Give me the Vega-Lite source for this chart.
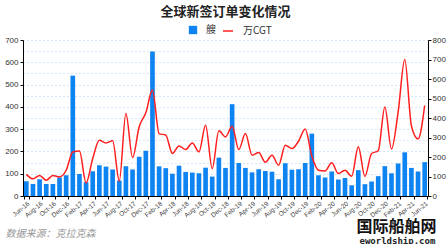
{
  "$schema": "https://vega.github.io/schema/vega-lite/v6.json",
  "width": 405,
  "height": 156,
  "autosize": "none",
  "padding": {"left": 23, "top": 40, "right": 20, "bottom": 48},
  "background": "#ffffff",
  "title": {
    "text": "全球新签订单变化情况",
    "font": "Noto Sans CJK SC",
    "fontSize": 13,
    "fontWeight": "bold",
    "color": "#222222",
    "anchor": "middle",
    "frame": "group",
    "offset": 6
  },
  "config": {
    "view": {"stroke": null},
    "axis": {"labelFont": "Liberation Sans", "titleFont": "Noto Sans CJK SC"},
    "legend": {"labelFont": "Noto Sans CJK SC"}
  },
  "data": {
    "values": [
      {"m": "Jun-16", "ships": 66, "cgt": 111},
      {"m": "Jul-16", "ships": 54, "cgt": 88},
      {"m": "Aug-16", "ships": 75, "cgt": 105},
      {"m": "Sep-16", "ships": 54, "cgt": 81},
      {"m": "Oct-16", "ships": 54, "cgt": 105},
      {"m": "Nov-16", "ships": 83, "cgt": 98},
      {"m": "Dec-16", "ships": 93, "cgt": 132},
      {"m": "Jan-17", "ships": 540, "cgt": 226},
      {"m": "Feb-17", "ships": 99, "cgt": 231},
      {"m": "Mar-17", "ships": 62, "cgt": 67},
      {"m": "Apr-17", "ships": 111, "cgt": 192},
      {"m": "May-17", "ships": 138, "cgt": 286},
      {"m": "Jun-17", "ships": 132, "cgt": 272},
      {"m": "Jul-17", "ships": 119, "cgt": 283},
      {"m": "Aug-17", "ships": 69, "cgt": 77},
      {"m": "Sep-17", "ships": 133, "cgt": 423},
      {"m": "Oct-17", "ships": 119, "cgt": 197},
      {"m": "Nov-17", "ships": 176, "cgt": 355},
      {"m": "Dec-17", "ships": 203, "cgt": 427},
      {"m": "Jan-18", "ships": 648, "cgt": 543},
      {"m": "Feb-18", "ships": 133, "cgt": 320},
      {"m": "Mar-18", "ships": 125, "cgt": 312},
      {"m": "Apr-18", "ships": 100, "cgt": 218},
      {"m": "May-18", "ships": 136, "cgt": 257},
      {"m": "Jun-18", "ships": 108, "cgt": 238},
      {"m": "Jul-18", "ships": 105, "cgt": 272},
      {"m": "Aug-18", "ships": 102, "cgt": 226},
      {"m": "Sep-18", "ships": 127, "cgt": 363},
      {"m": "Oct-18", "ships": 87, "cgt": 140},
      {"m": "Nov-18", "ships": 172, "cgt": 334},
      {"m": "Dec-18", "ships": 126, "cgt": 303},
      {"m": "Jan-19", "ships": 412, "cgt": 358},
      {"m": "Feb-19", "ships": 148, "cgt": 238},
      {"m": "Mar-19", "ships": 126, "cgt": 320},
      {"m": "Apr-19", "ships": 106, "cgt": 209},
      {"m": "May-19", "ships": 120, "cgt": 223},
      {"m": "Jun-19", "ships": 112, "cgt": 173},
      {"m": "Jul-19", "ships": 109, "cgt": 209},
      {"m": "Aug-19", "ships": 75, "cgt": 158},
      {"m": "Sep-19", "ships": 147, "cgt": 260},
      {"m": "Oct-19", "ships": 118, "cgt": 243},
      {"m": "Nov-19", "ships": 120, "cgt": 281},
      {"m": "Dec-19", "ships": 148, "cgt": 343},
      {"m": "Jan-20", "ships": 280, "cgt": 205},
      {"m": "Feb-20", "ships": 93, "cgt": 132},
      {"m": "Mar-20", "ships": 83, "cgt": 128},
      {"m": "Apr-20", "ships": 110, "cgt": 170},
      {"m": "May-20", "ships": 74, "cgt": 115},
      {"m": "Jun-20", "ships": 81, "cgt": 132},
      {"m": "Jul-20", "ships": 48, "cgt": 101},
      {"m": "Aug-20", "ships": 116, "cgt": 252},
      {"m": "Sep-20", "ships": 53, "cgt": 100},
      {"m": "Oct-20", "ships": 65, "cgt": 218},
      {"m": "Nov-20", "ships": 89, "cgt": 232},
      {"m": "Dec-20", "ships": 134, "cgt": 456},
      {"m": "Jan-21", "ships": 102, "cgt": 241},
      {"m": "Feb-21", "ships": 146, "cgt": 430},
      {"m": "Mar-21", "ships": 196, "cgt": 700},
      {"m": "Apr-21", "ships": 126, "cgt": 360},
      {"m": "May-21", "ships": 110, "cgt": 292},
      {"m": "Jun-21", "ships": 152, "cgt": 464}
    ]
  },
  "layer": [
    {
      "mark": {"type": "bar"},
      "encoding": {
        "x": {
          "field": "m", "type": "ordinal", "sort": null,
          "scale": {"paddingInner": 0.3, "paddingOuter": 0.15},
          "axis": {
            "values": ["Jun-16","Aug-16","Oct-16","Dec-16","Feb-17","Apr-17","Jun-17","Aug-17","Oct-17","Dec-17","Feb-18","Apr-18","Jun-18","Aug-18","Oct-18","Dec-18","Feb-19","Apr-19","Jun-19","Aug-19","Oct-19","Dec-19","Feb-20","Apr-20","Jun-20","Aug-20","Oct-20","Dec-20","Feb-21","Apr-21","Jun-21"],
            "tickBand": "extent",
            "labelAngle": -40,
            "labelFontSize": 6.5,
            "labelColor": "#444444",
            "labelPadding": 1,
            "tickSize": 3,
            "tickColor": "#000000",
            "domainColor": "#000000",
            "grid": false,
            "title": "数据来源：克拉克森",
            "titleFontSize": 10,
            "titleFontWeight": "normal",
            "titleFontStyle": "italic",
            "titleColor": "#999999",
            "titleAnchor": "start",
            "titleAlign": "left",
            "titleBaseline": "alphabetic",
            "titleX": -18,
            "titleY": 40
          }
        },
        "y": {
          "field": "ships", "type": "quantitative",
          "scale": {"domain": [0, 700], "nice": false},
          "axis": {
            "values": [0,50,100,150,200,250,300,350,400,450,500,550,600,650,700],
            "labelExpr": "datum.value % 100 === 0 ? datum.label : ''",
            "labelFontSize": 8,
            "labelColor": "#333333",
            "labelPadding": 2,
            "tickSize": 3,
            "tickColor": "#000000",
            "tickOpacity": {"condition": {"test": "datum.value % 100 === 0", "value": 1}, "value": 0},
            "domainColor": "#000000",
            "grid": true,
            "gridDash": [1, 3],
            "gridColor": "#a8cdf0",
            "gridWidth": 1,
            "title": "eworldship.com",
            "titleFont": "DejaVu Sans Mono",
            "titleFontSize": 9,
            "titleFontWeight": "bold",
            "titleColor": "#222222",
            "titleAngle": 0,
            "titleAlign": "left",
            "titleBaseline": "alphabetic",
            "titleX": 336,
            "titleY": 203
          }
        },
        "color": {
          "datum": "艘", "type": "nominal",
          "scale": {"range": ["#0E83F2"]},
          "legend": {
            "orient": "none", "legendX": 165, "legendY": -15,
            "title": null, "symbolType": "square", "symbolSize": 70,
            "labelFontSize": 10, "labelOffset": 8, "padding": 0, "labelColor": "#333333"
          }
        }
      }
    },
    {
      "mark": {"type": "line", "interpolate": "monotone", "strokeWidth": 1.5},
      "encoding": {
        "x": {"field": "m", "type": "ordinal", "sort": null},
        "y": {
          "field": "cgt", "type": "quantitative",
          "scale": {"domain": [0, 800], "nice": false},
          "axis": {
            "orient": "right",
            "values": [0,100,200,300,400,500,600,700,800],
            "labelFontSize": 8,
            "labelColor": "#333333",
            "labelPadding": 1,
            "tickSize": 3,
            "tickColor": "#000000",
            "domainColor": "#000000",
            "grid": false,
            "title": "国际船舶网",
            "titleFontSize": 16,
            "titleFontWeight": "bold",
            "titleColor": "#111111",
            "titleAngle": 0,
            "titleAlign": "left",
            "titleBaseline": "alphabetic",
            "titleX": -72,
            "titleY": 191
          }
        },
        "stroke": {
          "datum": "万CGT", "type": "nominal",
          "scale": {"range": ["#FF1F1F"]},
          "legend": {
            "orient": "none", "legendX": 199, "legendY": -15,
            "title": null, "symbolType": "stroke", "symbolSize": 100, "symbolStrokeWidth": 1.5,
            "labelFontSize": 10, "labelOffset": 9, "padding": 0, "labelColor": "#333333"
          }
        }
      }
    }
  ],
  "resolve": {"scale": {"y": "independent"}, "axis": {"y": "independent"}}
}
